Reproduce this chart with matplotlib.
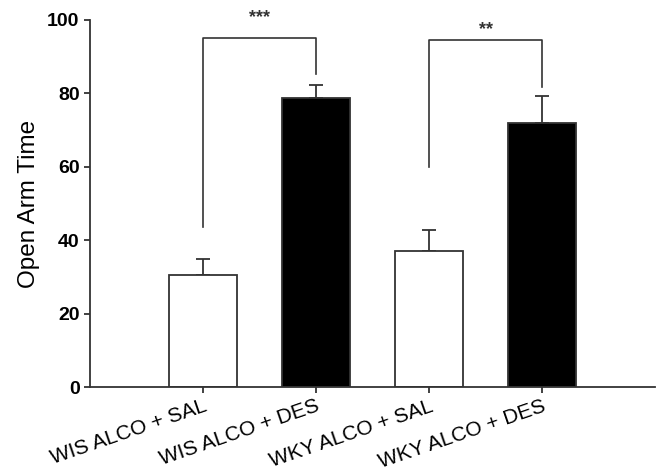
import matplotlib.pyplot as plt
import numpy as np

plt.rcParams['font.family'] = ['Liberation Sans', 'DejaVu Sans']

# data
groups = ['WIS ALCO + SAL', 'WIS ALCO + DES', 'WKY ALCO + SAL', 'WKY ALCO + DES']
means = [30.5, 78.7, 37.1, 71.8]
sems = [4.4, 3.7, 5.7, 7.5]
bar_colors = ['white', 'black', 'white', 'black']

# significance brackets: (left bar, right bar, left foot, right foot, top, star height, stars)
brackets = [
    (0, 1, 43.7, 85.3, 95.2, 100.6, '***'),
    (2, 3, 60.0, 81.8, 94.4, 97.3, '**'),
]

line_col = '#333333'

fig = plt.figure(figsize=(6.59, 4.74), dpi=100)
ax = fig.add_axes([0.1366, 0.1835, 0.8574, 0.7745])

x = np.arange(1, len(groups) + 1)
ax.bar(x, means, width=0.6, color=bar_colors, edgecolor=line_col, linewidth=1.3, zorder=2)
ax.errorbar(x, means, yerr=[np.zeros(len(sems)), sems], fmt='none',
            ecolor=line_col, elinewidth=1.3, capsize=5, capthick=1.3, zorder=1)

for i, j, yl, yr, top, ys, stars in brackets:
    ax.plot([x[i], x[i], x[j], x[j]], [yl, top, top, yr], color=line_col, lw=1.2)
    ax.text((x[i] + x[j]) / 2, ys, stars, ha='center', va='center',
            fontsize=13, fontweight='bold', color=line_col, clip_on=False)

ax.set_xlim(0, 5)
ax.set_ylim(0, 100)
ax.set_yticks(range(0, 101, 20))
ax.set_xticks(x)
ax.set_xticklabels(groups, rotation=19, ha='right', rotation_mode='anchor', fontsize=15)
for lbl in ax.get_yticklabels():
    lbl.set_fontweight('bold')
    lbl.set_fontsize(14)
ax.set_ylabel('Open Arm Time', fontsize=17.5, labelpad=5)

for s in ['top', 'right']:
    ax.spines[s].set_visible(False)
for s in ['left', 'bottom']:
    ax.spines[s].set_color(line_col)
    ax.spines[s].set_linewidth(1.3)
ax.tick_params(axis='both', direction='out', length=4, width=1.3, color=line_col)
ax.tick_params(axis='x', pad=3)

plt.savefig('out.png', dpi=100)
